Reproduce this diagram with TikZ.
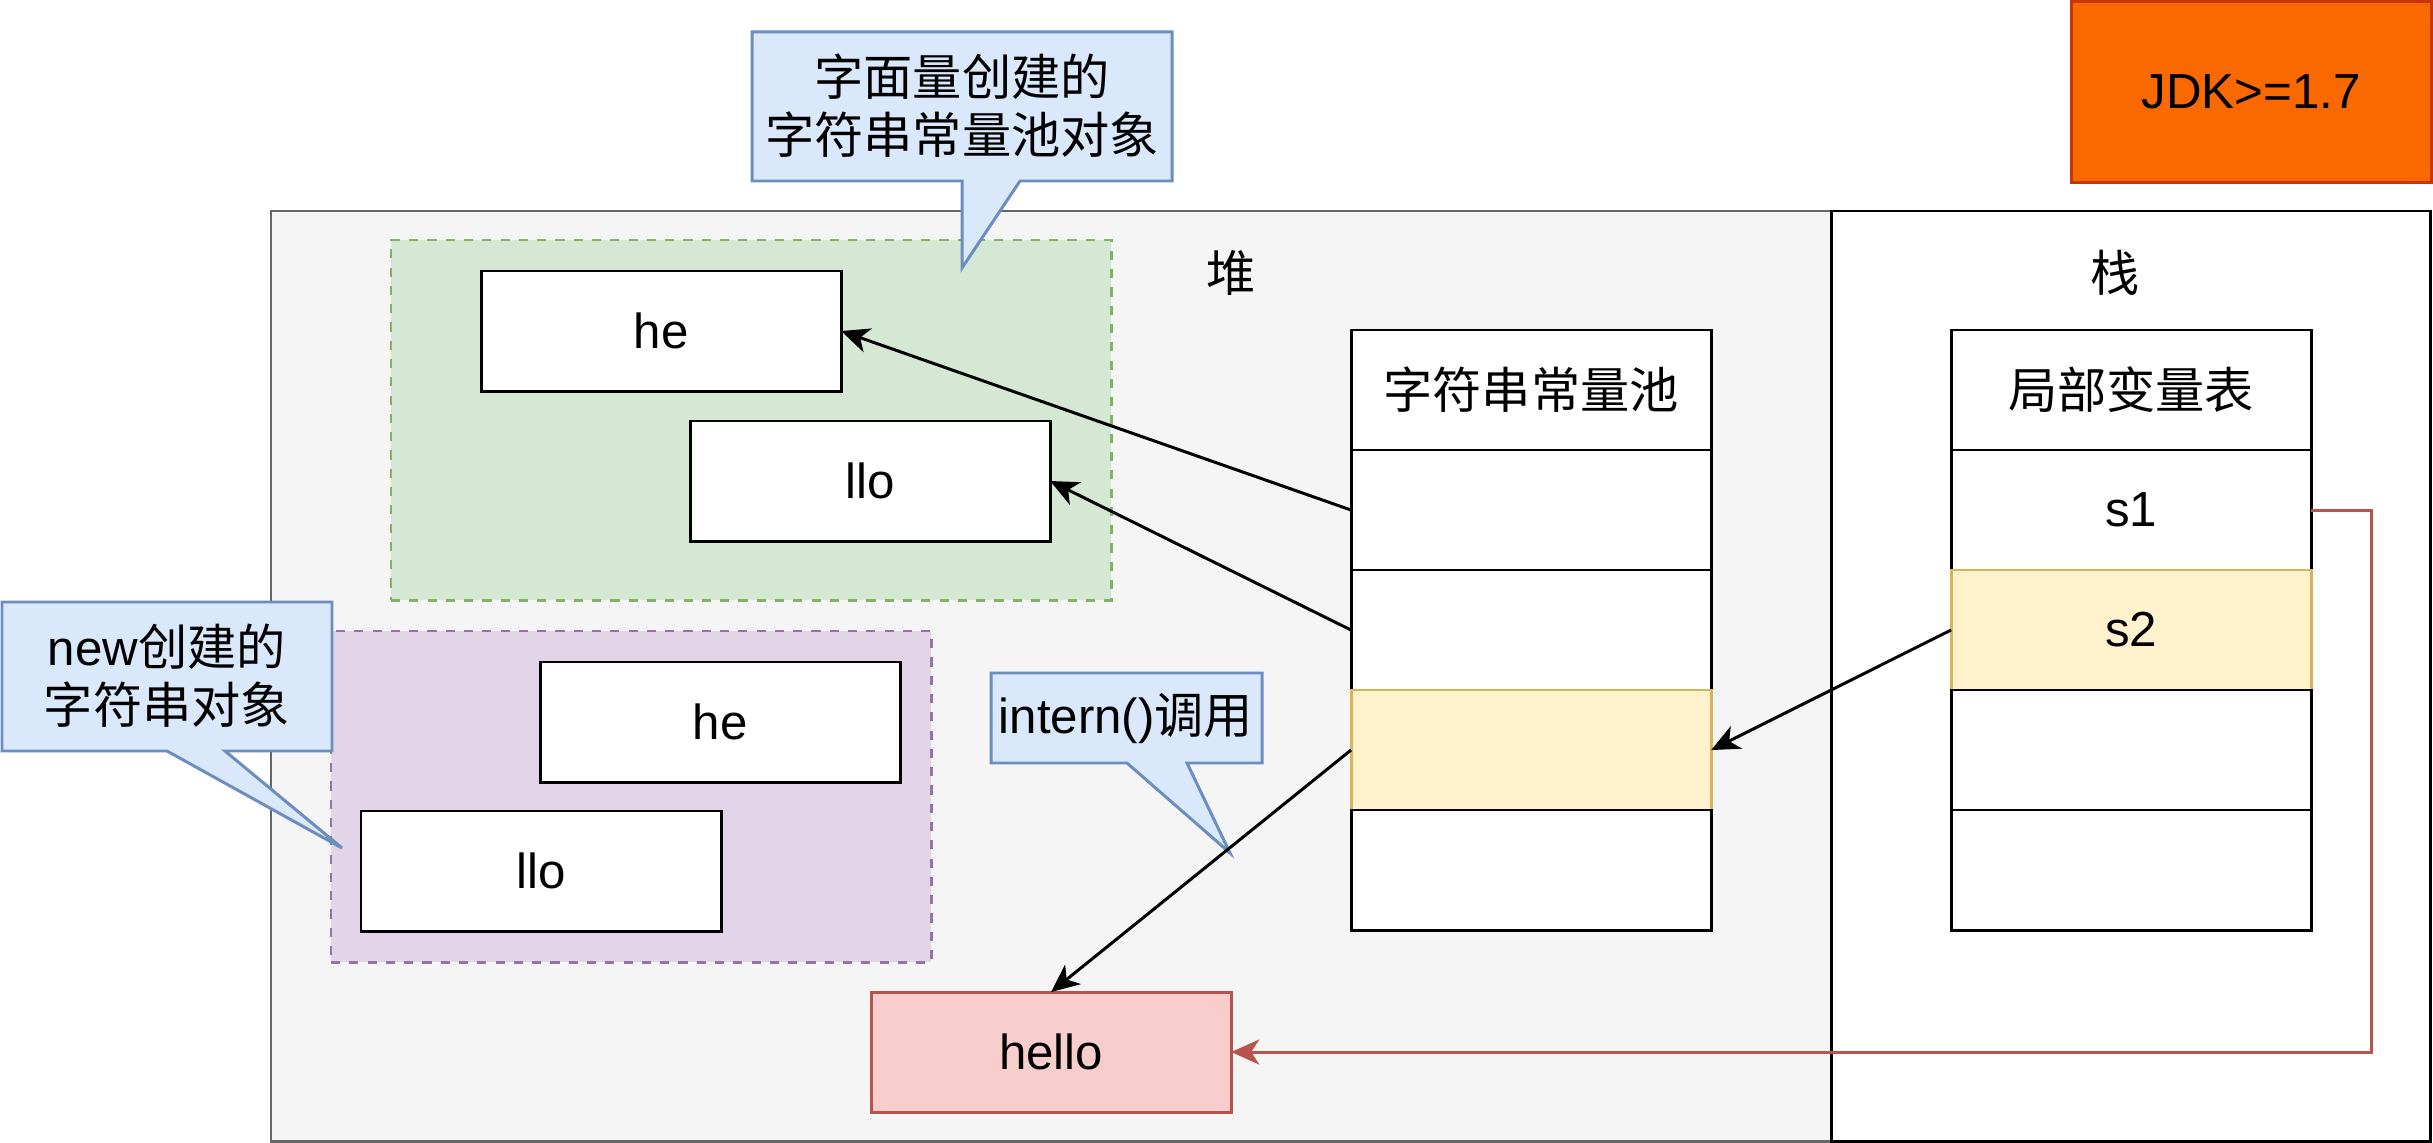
\documentclass[tikz,border=0pt]{standalone}
\usepackage{fontspec}
\setmainfont{Liberation Sans}
\newfontfamily\cjk{Noto Sans CJK SC}
\usetikzlibrary{arrows.meta,calc}
\definecolor{heapfill}{HTML}{F5F5F5}
\definecolor{heapline}{HTML}{666666}
\definecolor{greenfill}{HTML}{D5E8D4}
\definecolor{greenline}{HTML}{82B366}
\definecolor{purplefill}{HTML}{E1D5E7}
\definecolor{purpleline}{HTML}{9673A6}
\definecolor{yellowfill}{HTML}{FFF2CC}
\definecolor{yellowline}{HTML}{D6B656}
\definecolor{redfill}{HTML}{F8CECC}
\definecolor{redline}{HTML}{B85450}
\definecolor{bluefill}{HTML}{DAE8FC}
\definecolor{blueline}{HTML}{6C8EBF}
\definecolor{orangefill}{HTML}{FA6800}
\definecolor{orangeline}{HTML}{C73500}
\tikzset{
  every node/.style={font=\fontsize{14pt}{16.5pt}\selectfont, inner sep=0pt, outer sep=0pt},
  lw/.style={line width=0.85pt},
  cell/.style={lw, draw=black, fill=white, anchor=north west, minimum width=3.6cm, minimum height=1.2cm},
  ycell/.style={cell, draw=yellowline, fill=yellowfill},
  obj/.style={cell},
  grp/.style={lw, anchor=north west, dash pattern=on 2.6pt off 2.6pt},
  callout/.style={lw, draw=blueline, fill=bluefill, line join=miter},
  arr/.style={lw, draw=black, -{Stealth[length=0.28cm, width=0.25cm, inset=0.08cm]}},
  redarr/.style={lw, draw=redline, -{Stealth[length=0.28cm, width=0.25cm, inset=0.08cm]}},
}
\begin{document}
\begin{tikzpicture}[x=0.01cm, y=-0.01cm]
\useasboundingbox (0,0) rectangle (2433,1143);
% containers
\node[lw, draw=heapline, fill=heapfill, anchor=north west, minimum width=15.6cm, minimum height=9.3cm] (heap) at (271,211) {};
\node[lw, draw=black, fill=white, anchor=north west, minimum width=5.99cm, minimum height=9.3cm] (stack) at (1831,211) {};
\node (heaplabel) at (1231,273) {\cjk 堆};
\node (stacklabel) at (2115,273) {\cjk 栈};
% JDK
\node[lw, draw=orangeline, fill=orangefill, anchor=north west, minimum width=3.6cm, minimum height=1.8cm] (jdk) at (2071,2) {JDK>=1.7};
% groups
\node[grp, draw=greenline, fill=greenfill, minimum width=7.2cm, minimum height=3.6cm] (green) at (391,240) {};
\node[grp, draw=purpleline, fill=purplefill, minimum width=6.0cm, minimum height=3.31cm] (purple) at (331,631) {};
% objects
\node[obj] (he1) at (481,271) {};
\node at (he1.center) {he};
\node[obj] (llo1) at (690,421) {};
\node at (llo1.center) {llo};
\node[obj] (he2) at (540,662) {};
\node at (he2.center) {he};
\node[obj] (llo2) at (361,811) {};
\node at (llo2.center) {llo};
\node[obj, draw=redline, fill=redfill] (hello) at (871,992) {};
\node at (hello.center) {hello};
% string pool
\node[cell] (p0) at (1351,330) {};
\node at (p0.center) {\cjk 字符串常量池};
\node[cell] (p1) at (1351,450) {};
\node[cell] (p2) at (1351,570) {};
\node[ycell] (p3) at (1351,690) {};
\node[cell] (p4) at (1351,810) {};
% local variable table
\node[cell] (s0) at (1951,330) {};
\node at (s0.center) {\cjk 局部变量表};
\node[cell] (s1) at (1951,450) {};
\node at (s1.center) {s1};
\node[ycell] (s2) at (1951,570) {};
\node at (s2.center) {s2};
\node[cell] (s3) at (1951,690) {};
\node[cell] (s4) at (1951,810) {};
% callouts
\draw[callout] (752,32) -- (1172,32) -- (1172,181) -- (1020,181) -- (962,268) -- (962,181) -- (752,181) -- cycle;
\node[align=center] (c1) at (962,106) {\cjk 字面量创建的\\\cjk 字符串常量池对象};
\draw[callout] (2,602) -- (332,602) -- (332,751) -- (225,751) -- (342,848) -- (167,751) -- (2,751) -- cycle;
\node[align=center] (c2) at (167,676) {new{\cjk 创建的}\\\cjk 字符串对象};
\draw[callout] (991,673) -- (1262,673) -- (1262,763) -- (1187,763) -- (1230,853) -- (1127,763) -- (991,763) -- cycle;
\node (c3) at (1126,718) {intern(){\cjk 调用}};
% connectors
\draw[arr] (p1.west) -- (he1.east);
\draw[arr] (p2.west) -- (llo1.east);
\draw[arr] (p3.west) -- (hello.north);
\draw[arr] (s2.west) -- (p3.east);
\coordinate (rc) at (2371,0);
\draw[redarr] (s1.east) -- (s1.east -| rc) |- (hello.east);
\end{tikzpicture}
\end{document}
